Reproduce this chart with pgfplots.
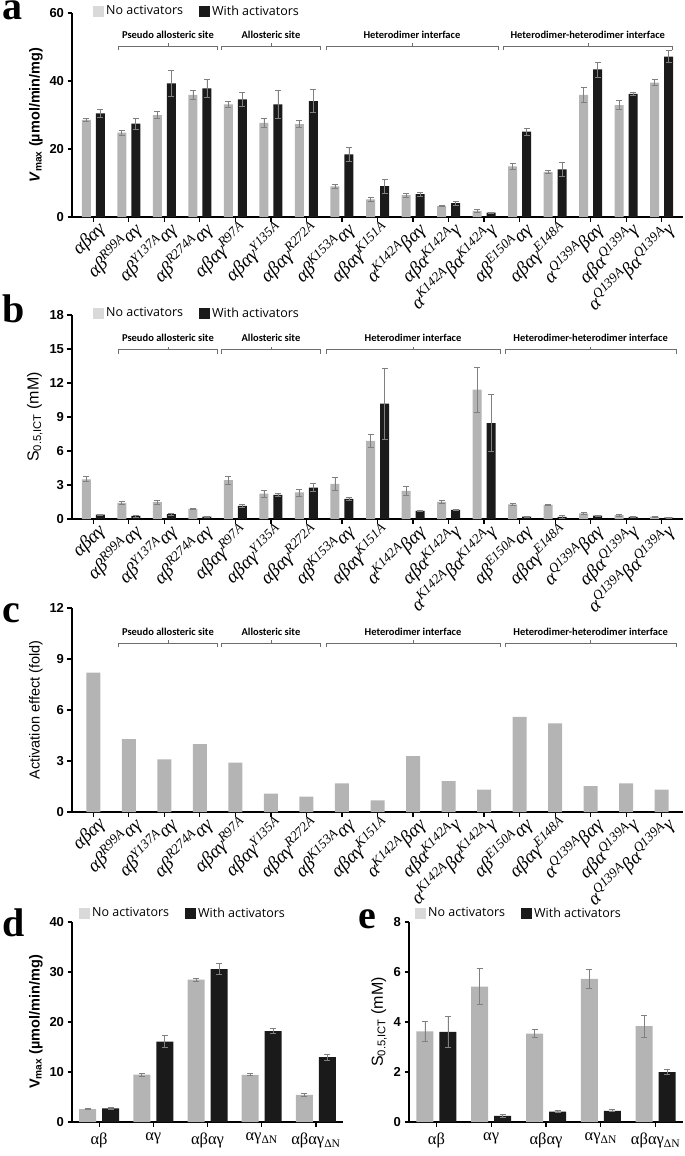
\documentclass[border=0pt]{standalone}
\usepackage{pgfplots}
\pgfplotsset{compat=1.18}
\usepackage{pgfplotstable}
\usepackage{fontspec}
\setmainfont{Liberation Sans}
\newfontfamily\gr{Liberation Serif}
\newfontfamily\grpf{Carlito}
\newfontfamily\legf{Open Sans}

\definecolor{gbar}{HTML}{B4B4B4}
\definecolor{kbar}{HTML}{1A1A1A}
\definecolor{glg}{HTML}{D9D9D9}
\definecolor{ebar}{HTML}{808080}
\definecolor{bcol}{HTML}{6E6E6E}

\newcommand{\su}[1]{\textsuperscript{#1}}
\newcommand{\tickfont}{\bfseries\fontsize{13}{13}\selectfont}
\newcommand{\xlabfont}{\gr\itshape\fontsize{19}{19}\selectfont}
\newcommand{\xlabfontb}{\gr\fontsize{16.5}{16.5}\selectfont}
\newcommand{\legfont}{\legf\fontsize{12.5}{13}\selectfont}
\newcommand{\grpfont}{\grpf\bfseries\fontsize{10.5}{11}\selectfont}
\newcommand{\ylabfont}{\fontsize{14.5}{15}\selectfont}
\newcommand{\slabfont}{\fontsize{16}{16}\selectfont}
\newcommand{\letfont}{\gr\bfseries\fontsize{40}{40}\selectfont}
% bracket: x1, x2, mid, y, ylabel, text
\newcommand{\brk}[6]{%
  \draw[line width=0.6pt, bcol] ([yshift=-4pt]axis cs:#1,#4) -- (axis cs:#1,#4) -- (axis cs:#2,#4) -- ([yshift=-4pt]axis cs:#2,#4);
  \draw[line width=0.6pt, bcol] (axis cs:#3,#4) -- ([yshift=3pt]axis cs:#3,#4);
  \node[font=\grpfont, anchor=center] at (axis cs:#3,#5) {#6};
}

\pgfplotstableread{
x no noe wi wie
1 28.6 0.5 30.5 1.1
2 24.8 0.8 27.5 1.6
3 30.0 1.0 39.3 3.9
4 35.9 1.3 37.8 2.6
5 33.1 0.8 34.6 2.0
6 27.7 1.2 33.1 4.2
7 27.3 1.0 34.1 3.3
8 9.0 0.6 18.4 2.0
9 5.2 0.6 9.1 2.0
10 6.4 0.5 6.7 0.5
11 3.2 0.2 4.1 0.6
12 1.8 0.5 1.3 0.2
13 14.9 0.9 25.1 1.1
14 13.3 0.5 14.0 2.0
15 35.9 2.1 43.4 2.2
16 32.9 1.3 36.2 0.5
17 39.5 0.9 47.2 1.7
}\dataA

\pgfplotstableread{
x no noe wi wie
1 3.50 0.22 0.38 0.05
2 1.42 0.10 0.27 0.08
3 1.48 0.15 0.44 0.10
4 0.89 0.05 0.20 0.07
5 3.43 0.37 1.15 0.10
6 2.25 0.30 2.13 0.12
7 2.34 0.30 2.78 0.37
8 3.10 0.55 1.78 0.10
9 6.90 0.55 10.18 3.15
10 2.49 0.37 0.71 0.05
11 1.51 0.12 0.80 0.06
12 11.42 2.00 8.46 2.50
13 1.30 0.06 0.21 0.06
14 1.24 0.07 0.18 0.15
15 0.50 0.06 0.30 0.06
16 0.35 0.10 0.18 0.04
17 0.20 0.05 0.12 0.03
}\dataB

\pgfplotstableread{
x fold
1 8.2
2 4.29
3 3.09
4 4.0
5 2.91
6 1.08
7 0.91
8 1.69
9 0.69
10 3.29
11 1.81
12 1.32
13 5.59
14 5.22
15 1.52
16 1.69
17 1.32
}\dataC

\pgfplotstableread{
x no noe wi wie
1 2.6 0.15 2.75 0.2
2 9.5 0.3 16.1 1.15
3 28.5 0.3 30.6 1.05
4 9.44 0.2 18.2 0.55
5 5.44 0.3 13.0 0.6
}\dataD

\pgfplotstableread{
x no noe wi wie
1 3.63 0.39 3.61 0.62
2 5.42 0.71 0.25 0.07
3 3.54 0.17 0.42 0.03
4 5.73 0.39 0.45 0.04
5 3.84 0.44 2.00 0.10
}\dataE

\pgfplotsset{
  base/.style={
    scale only axis,
    axis x line*=bottom, axis y line*=left,
    axis line style={line width=1.4pt},
    tick style={line width=1.2pt, black},
    tick align=outside,
    major tick length=4.5pt,
    ymin=0,
    yticklabel style={font=\tickfont},
    ylabel style={font=\ylabfont},
    /pgf/number format/assume math mode=true,
    clip=false,
    legend columns=2,
    legend cell align=left,
    legend style={draw=none, fill=none, font=\legfont, inner sep=0pt, anchor=west,
      /tikz/every even column/.append style={column sep=14pt}},
  },
  sqleg/.style={legend image code/.code={\fill[##1, draw=none] (0pt,-5.5pt) rectangle (11pt,5.5pt);}},
  wide/.style={
    xmin=0.4, xmax=17.6, xtick={1,...,17},
    xticklabels={{αβαγ},{αβ\su{R99A}αγ},{αβ\su{Y137A}αγ},{αβ\su{R274A}αγ},{αβαγ\su{R97A}},{αβαγ\su{Y135A}},{αβαγ\su{R272A}},{αβ\su{K153A}αγ},{αβαγ\su{K151A}},{α\su{K142A}βαγ},{αβα\su{K142A}γ},{α\su{K142A}βα\su{K142A}γ},{αβ\su{E150A}αγ},{αβαγ\su{E148A}},{α\su{Q139A}βαγ},{αβα\su{Q139A}γ},{α\su{Q139A}βα\su{Q139A}γ}},
    x tick label style={rotate=45, anchor=north east, font=\xlabfont, inner sep=0pt, xshift=3pt, yshift=-1pt},
  },
  small/.style={
    xmin=0.5, xmax=5.5, xtick={1,...,5},
    xticklabels={{αβ},{αγ},{αβαγ},{αγ\textsubscript{ΔN}},{αβαγ\textsubscript{ΔN}}},
    x tick label style={font=\xlabfontb, yshift=-3pt},
  },
  eb/.style={error bars/.cd, y dir=both, y explicit,
    error bar style={ebar, line width=0.7pt},
    error mark options={ebar, mark size=3pt, line width=0.7pt, rotate=90}},
  gplot/.style={fill=gbar, draw=none, legend image post style={fill=glg}},
  kplot/.style={fill=kbar, draw=none},
}

\begin{document}
\begin{tikzpicture}
\path[use as bounding box] (0pt,0pt) rectangle (685pt,-1156pt);

% ---------- a ----------
\begin{axis}[base, wide, ybar=5pt, bar width=9pt, sqleg, at={(72pt,-217pt)}, anchor=south west, width=611pt, height=204pt,
  ymax=60, ytick={0,20,40,60},
  ylabel={\bfseries\textit{V}\textsubscript{max} (µmol/min/mg)},
  legend style={at={(axis description cs:0,1)}, xshift=21pt, yshift=2pt}]
\addplot[gplot, eb] table[x=x, y=no, y error=noe]{\dataA};
\addplot[kplot, eb] table[x=x, y=wi, y error=wie]{\dataA};
\legend{No activators, With activators}
\brk{1.7}{4.5}{3.1}{50.2}{53.6}{Pseudo allosteric site}
\brk{4.6}{7.4}{6.0}{50.2}{53.6}{Allosteric site}
\brk{7.55}{12.4}{9.97}{50.2}{53.6}{Heterodimer interface}
\brk{12.55}{17.3}{14.92}{50.2}{53.6}{Heterodimer-heterodimer interface}
\end{axis}

% ---------- b ----------
\begin{axis}[base, wide, ybar=5pt, bar width=9pt, sqleg, at={(72pt,-519pt)}, anchor=south west, width=611pt, height=204pt,
  ymax=18, ytick={0,3,...,18},
  ylabel={S\textsubscript{0.5,ICT} (mM)}, ylabel style={font=\slabfont},
  legend style={at={(axis description cs:0,1)}, xshift=21pt, yshift=2pt}]
\addplot[gplot, eb] table[x=x, y=no, y error=noe]{\dataB};
\addplot[kplot, eb] table[x=x, y=wi, y error=wie]{\dataB};
\legend{No activators, With activators}
\brk{1.7}{4.5}{3.1}{14.95}{15.95}{Pseudo allosteric site}
\brk{4.6}{7.4}{6.0}{14.95}{15.95}{Allosteric site}
\brk{7.55}{12.45}{10.0}{14.95}{15.95}{Heterodimer interface}
\brk{12.6}{17.4}{15.0}{14.95}{15.95}{Heterodimer-heterodimer interface}
\end{axis}

% ---------- c ----------
\begin{axis}[base, wide, ybar, bar width=14pt, at={(72pt,-812pt)}, anchor=south west, width=611pt, height=204pt,
  ymax=12, ytick={0,3,...,12},
  ylabel={Activation effect (fold)}]
\addplot[fill=gbar, draw=none] table[x=x, y=fold]{\dataC};
\brk{1.7}{4.5}{3.1}{9.95}{10.6}{Pseudo allosteric site}
\brk{4.6}{7.4}{6.0}{9.95}{10.6}{Allosteric site}
\brk{7.55}{12.45}{10.0}{9.95}{10.6}{Heterodimer interface}
\brk{12.6}{17.4}{15.0}{9.95}{10.6}{Heterodimer-heterodimer interface}
\end{axis}

% ---------- d ----------
\begin{axis}[base, small, ybar=6pt, bar width=17pt, sqleg, at={(72pt,-1122pt)}, anchor=south west, width=271pt, height=200pt,
  ymax=40, ytick={0,10,...,40},
  ylabel={\bfseries V\textsubscript{max} (µmol/min/mg)},
  legend style={at={(axis description cs:0,1)}, xshift=7pt, yshift=9pt}]
\addplot[gplot, eb] table[x=x, y=no, y error=noe]{\dataD};
\addplot[kplot, eb] table[x=x, y=wi, y error=wie]{\dataD};
\legend{No activators, With activators}
\end{axis}

% ---------- e ----------
\begin{axis}[base, small, ybar=6pt, bar width=17pt, sqleg, at={(409pt,-1122pt)}, anchor=south west, width=274pt, height=200pt,
  ymax=8, ytick={0,2,...,8},
  ylabel={S\textsubscript{0.5,ICT} (mM)}, ylabel style={font=\slabfont},
  legend style={at={(axis description cs:0,1)}, xshift=6pt, yshift=9pt}]
\addplot[gplot, eb] table[x=x, y=no, y error=noe]{\dataE};
\addplot[kplot, eb] table[x=x, y=wi, y error=wie]{\dataE};
\legend{No activators, With activators}
\end{axis}

\node[font=\letfont, anchor=north west, inner sep=0pt] at (2pt,-1pt) {a};
\node[font=\letfont, anchor=north west, inner sep=0pt] at (2pt,-295pt) {b};
\node[font=\letfont, anchor=north west, inner sep=0pt] at (2pt,-603pt) {c};
\node[font=\letfont, anchor=north west, inner sep=0pt] at (2pt,-909pt) {d};
\node[font=\letfont, anchor=north west, inner sep=0pt] at (358pt,-909pt) {e};
\end{tikzpicture}
\end{document}
